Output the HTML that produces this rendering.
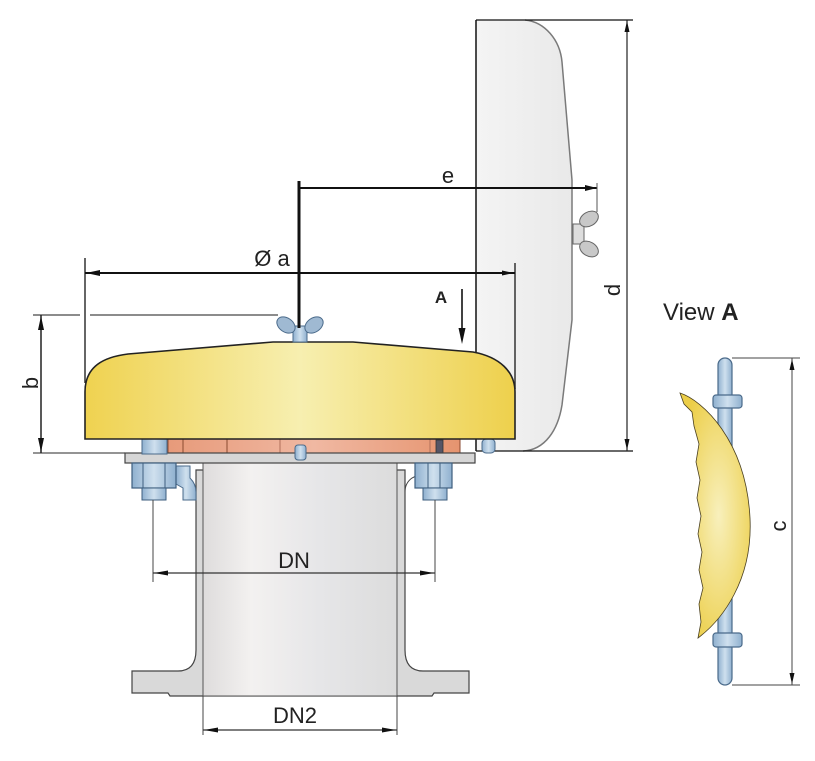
<!DOCTYPE html>
<html><head><meta charset="utf-8"><style>
html,body{margin:0;padding:0;background:#fff;}
svg{display:block;}
text{font-family:"Liberation Sans",Arial,sans-serif;fill:#222;}
</style></head><body>
<svg width="815" height="761" viewBox="0 0 815 761" xmlns="http://www.w3.org/2000/svg">
<defs>
<linearGradient id="cap" x1="0" x2="1" y1="0" y2="0">
<stop offset="0" stop-color="#efd250"/><stop offset="0.5" stop-color="#f7efb0"/><stop offset="1" stop-color="#eed04c"/>
</linearGradient>
<linearGradient id="pipe" x1="0" x2="1" y1="0" y2="0">
<stop offset="0" stop-color="#dedcdc"/><stop offset="0.25" stop-color="#f3f1f0"/><stop offset="0.6" stop-color="#e6e6e8"/><stop offset="1" stop-color="#dcdcdc"/>
</linearGradient>
<linearGradient id="panel" x1="0" x2="1" y1="0" y2="0">
<stop offset="0" stop-color="#f4f4f4"/><stop offset="1" stop-color="#e9e9e9"/>
</linearGradient>
<linearGradient id="copper" x1="0" x2="1" y1="0" y2="0">
<stop offset="0" stop-color="#e79a7a"/><stop offset="0.5" stop-color="#f0b8a2"/><stop offset="1" stop-color="#e6946f"/>
</linearGradient>
<linearGradient id="bolt" x1="0" x2="1" y1="0" y2="0">
<stop offset="0" stop-color="#8fb0cf"/><stop offset="0.5" stop-color="#cfe0ee"/><stop offset="1" stop-color="#8fb0cf"/>
</linearGradient>
<radialGradient id="cres" cx="0.55" cy="0.5" r="0.6">
<stop offset="0" stop-color="#f8f0bc"/><stop offset="1" stop-color="#ecce48"/>
</radialGradient>
</defs>

<!-- open cover panel -->
<path d="M476,20 L525,20 C545,22 560,40 562,62 L572,180 L572,320 L562,405 C558,430 545,450 523,451 L476,451 Z" fill="url(#panel)" stroke="none"/>
<path d="M525,20 C545,22 560,40 562,62 L572,180 L572,320 L562,405 C558,430 545,450 523,451" fill="none" stroke="#7a7a7a" stroke-width="1.5"/>
<line x1="476" y1="20" x2="633" y2="20" stroke="#111" stroke-width="1.2"/>
<line x1="476" y1="20" x2="476" y2="451" stroke="#111" stroke-width="1.5"/>
<line x1="476" y1="451" x2="633" y2="451" stroke="#111" stroke-width="1.2"/>
<rect x="482" y="439" width="13" height="14" rx="4" fill="url(#bolt)" stroke="#4a6a8a" stroke-width="1"/>

<!-- side wing nut -->
<rect x="573" y="224" width="11" height="20" fill="#ddd" stroke="#666" stroke-width="1"/>
<ellipse cx="589" cy="219" rx="10" ry="7" transform="rotate(-30 589 219)" fill="#c8c8c8" stroke="#666" stroke-width="1"/>
<ellipse cx="589" cy="249" rx="10" ry="7" transform="rotate(30 589 249)" fill="#c8c8c8" stroke="#666" stroke-width="1"/>

<!-- e dimension -->
<line x1="299" y1="181" x2="299" y2="322" stroke="#111" stroke-width="3"/>
<line x1="299" y1="188" x2="597" y2="188" stroke="#111" stroke-width="2"/>
<polygon points="597,188 585,185 585,191" fill="#111"/>
<line x1="597" y1="183" x2="597" y2="212" stroke="#555" stroke-width="1"/>
<text x="448" y="183" font-size="22" text-anchor="middle">e</text>

<!-- Ø a dimension -->
<line x1="85" y1="258" x2="85" y2="383" stroke="#333" stroke-width="1.5"/>
<line x1="515" y1="263" x2="515" y2="389" stroke="#333" stroke-width="1.5"/>
<line x1="85" y1="273" x2="515" y2="273" stroke="#111" stroke-width="2"/>
<polygon points="86,273 100,270 100,276" fill="#111"/>
<polygon points="514,273 502,270.5 502,275.5" fill="#111"/>
<text x="272" y="266" font-size="22" text-anchor="middle">Ø a</text>

<!-- b dimension -->
<line x1="33" y1="315" x2="80" y2="315" stroke="#666" stroke-width="1.5"/>
<line x1="90" y1="315" x2="278" y2="315" stroke="#666" stroke-width="1.5"/>
<line x1="33" y1="453" x2="125" y2="453" stroke="#555" stroke-width="1.2"/>
<line x1="41" y1="315" x2="41" y2="453" stroke="#222" stroke-width="1.5"/>
<polygon points="41,316 38,330 44,330" fill="#111"/>
<polygon points="41,452 38,438 44,438" fill="#111"/>
<text x="0" y="0" font-size="22" text-anchor="middle" transform="translate(38 383) rotate(-90)">b</text>

<!-- d dimension -->
<line x1="627" y1="20" x2="627" y2="451" stroke="#222" stroke-width="1.2"/>
<polygon points="627,21 624.5,32 629.5,32" fill="#111"/>
<polygon points="627,450 624.5,439 629.5,439" fill="#111"/>
<text x="0" y="0" font-size="22" text-anchor="middle" transform="translate(620 290) rotate(-90)">d</text>

<!-- arrow A -->
<line x1="462" y1="289" x2="462" y2="332" stroke="#111" stroke-width="1.6"/>
<polygon points="462,344 458.5,328 465.5,328" fill="#111"/>
<text x="441" y="303" font-size="17" font-weight="bold" text-anchor="middle">A</text>

<!-- pipe neck + bottom flange -->
<path d="M196,470 L405,470 L405,650 Q405,671 423,671 L469,671 L469,693 L434,693 L432,696 L170,696 L168,693 L132,693 L132,671 L178,671 Q196,671 196,650 Z" fill="#d9d9d9" stroke="#444" stroke-width="1.2"/>
<rect x="203" y="463" width="194" height="233" fill="url(#pipe)" stroke="#555" stroke-width="1"/>
<path d="M176,466 L190,466 L190,478 Q196,484 196,492 L196,500 L183,500 L183,488 L176,484 Z" fill="url(#bolt)" stroke="#4a6a8a" stroke-width="1"/>
<path d="M405,492 Q405,483 412,478 L416,476" fill="none" stroke="#444" stroke-width="1"/>

<!-- copper plate -->
<rect x="168" y="439" width="292" height="15" fill="url(#copper)" stroke="#8a4a30" stroke-width="1"/>
<line x1="183" y1="439" x2="183" y2="454" stroke="#8a4a30" stroke-width="1"/>
<line x1="227" y1="439" x2="227" y2="454" stroke="#8a4a30" stroke-width="1"/>
<line x1="280" y1="439" x2="280" y2="454" stroke="#b0705a" stroke-width="1"/>
<line x1="430" y1="439" x2="430" y2="454" stroke="#b0705a" stroke-width="1"/>
<rect x="436" y="440" width="7" height="13" fill="#556" stroke="#333" stroke-width="0.8"/>

<!-- gray flange plate -->
<rect x="125" y="453" width="350" height="10" fill="#d6d6d6" stroke="#444" stroke-width="1.2"/>

<rect x="295" y="445" width="11" height="15" rx="3" fill="url(#bolt)" stroke="#4a6a8a" stroke-width="1"/>

<!-- left bolt -->
<rect x="142" y="439" width="25" height="15" fill="url(#bolt)" stroke="#4a6a8a" stroke-width="1"/>
<rect x="132" y="463" width="44" height="25" fill="url(#bolt)" stroke="#3e5e7e" stroke-width="1.2"/>
<line x1="143" y1="463" x2="143" y2="488" stroke="#3e5e7e" stroke-width="1"/>
<line x1="165" y1="463" x2="165" y2="488" stroke="#3e5e7e" stroke-width="1"/>
<rect x="142" y="488" width="24" height="12" fill="url(#bolt)" stroke="#3e5e7e" stroke-width="1"/>

<!-- right bolt -->
<rect x="415" y="463" width="37" height="25" fill="url(#bolt)" stroke="#3e5e7e" stroke-width="1.2"/>
<line x1="428" y1="463" x2="428" y2="488" stroke="#3e5e7e" stroke-width="1"/>
<line x1="440" y1="463" x2="440" y2="488" stroke="#3e5e7e" stroke-width="1"/>
<rect x="423" y="488" width="24" height="12" fill="url(#bolt)" stroke="#3e5e7e" stroke-width="1"/>

<!-- yellow cap -->
<path d="M85,439 L85,392 C85,366 104,357 128,354 L273,342 L353,342 L473,352 C500,357 515,372 515,392 L515,439 Z" fill="url(#cap)" stroke="#222" stroke-width="1.6"/>

<!-- top wing nut -->
<rect x="293" y="326" width="14" height="16" fill="url(#bolt)" stroke="#4a6a8a" stroke-width="1"/>
<ellipse cx="286" cy="325" rx="10" ry="7" transform="rotate(35 286 325)" fill="#9fb9d2" stroke="#4a6a8a" stroke-width="1"/>
<ellipse cx="314" cy="325" rx="10" ry="7" transform="rotate(-35 314 325)" fill="#9fb9d2" stroke="#4a6a8a" stroke-width="1"/>
<line x1="299" y1="312" x2="299" y2="328" stroke="#111" stroke-width="3"/>

<!-- DN dimension -->
<line x1="153" y1="500" x2="153" y2="582" stroke="#444" stroke-width="1"/>
<line x1="435" y1="500" x2="435" y2="582" stroke="#444" stroke-width="1"/>
<line x1="153" y1="573" x2="435" y2="573" stroke="#333" stroke-width="1.2"/>
<polygon points="154,573 168,570.5 168,575.5" fill="#111"/>
<polygon points="434,573 420,570.5 420,575.5" fill="#111"/>
<text x="294" y="568" font-size="22" text-anchor="middle">DN</text>

<!-- DN2 dimension -->
<line x1="203" y1="696" x2="203" y2="735" stroke="#444" stroke-width="1"/>
<line x1="397" y1="696" x2="397" y2="735" stroke="#444" stroke-width="1"/>
<line x1="203" y1="730" x2="397" y2="730" stroke="#333" stroke-width="1.2"/>
<polygon points="204,730 218,727.5 218,732.5" fill="#111"/>
<polygon points="396,730 382,727.5 382,732.5" fill="#111"/>
<text x="295" y="723" font-size="22" text-anchor="middle">DN2</text>

<!-- View A -->
<text x="663" y="320" font-size="24">View <tspan font-weight="bold">A</tspan></text>
<rect x="718" y="358" width="14" height="327" rx="7" fill="url(#bolt)" stroke="#4a6a8a" stroke-width="1.2"/>
<rect x="713" y="395" width="29" height="13" rx="3" fill="url(#bolt)" stroke="#4a6a8a" stroke-width="1.2"/>
<rect x="713" y="633" width="29" height="14" rx="3" fill="url(#bolt)" stroke="#4a6a8a" stroke-width="1.2"/>
<path d="M680,393 C702,400 746,440 750,518 C753,580 722,620 698,638 L701,622 L699,604 L703,588 L699,570 L702,552 L698,534 L701,516 L697,498 L700,480 L696,462 L699,444 L694,426 L692,412 L684,404 Z" fill="url(#cres)" stroke="#4a4020" stroke-width="0.8"/>
<line x1="732" y1="358" x2="800" y2="358" stroke="#444" stroke-width="1"/>
<line x1="732" y1="685" x2="800" y2="685" stroke="#444" stroke-width="1"/>
<line x1="792" y1="358" x2="792" y2="685" stroke="#444" stroke-width="1"/>
<polygon points="792,359 789.5,370 794.5,370" fill="#111"/>
<polygon points="792,684 789.5,673 794.5,673" fill="#111"/>
<text x="0" y="0" font-size="22" text-anchor="middle" transform="translate(786 526) rotate(-90)">c</text>
</svg>
</body></html>
